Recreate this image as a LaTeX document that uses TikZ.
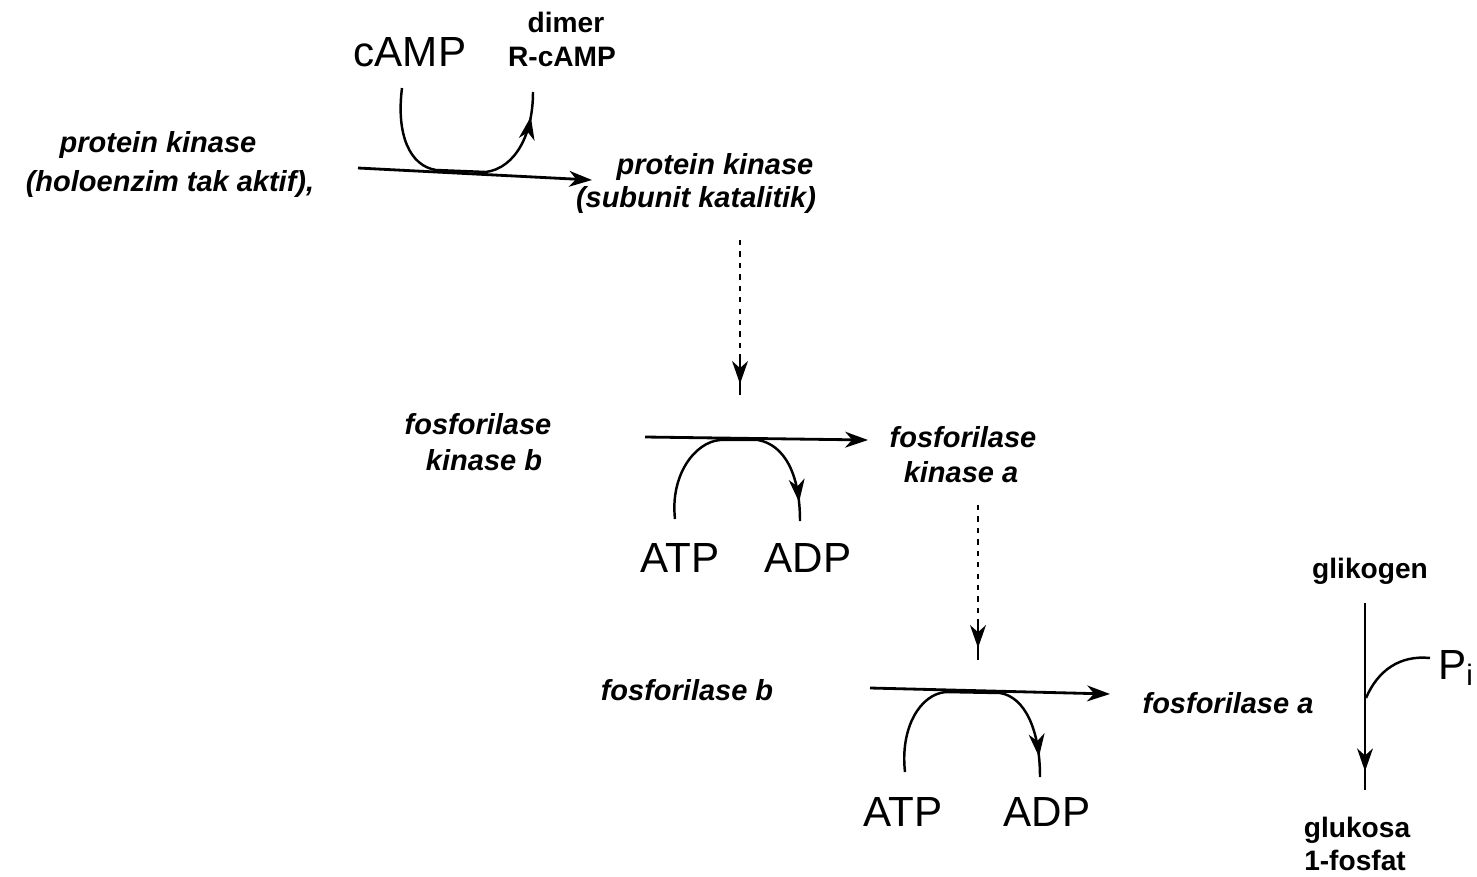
\documentclass[tikz,border=0pt]{standalone}
\usepackage{fontspec}
\setmainfont{Liberation Sans}
\usetikzlibrary{arrows.meta,decorations.markings}
\begin{document}
\begin{tikzpicture}[x=0.02cm,y=-0.02cm,
  lbl/.style={font=\fontsize{16.5}{19}\selectfont\bfseries\itshape, inner sep=0pt},
  lblup/.style={font=\fontsize{16}{19}\selectfont\bfseries, inner sep=0pt},
  big/.style={font=\fontsize{24}{28}\selectfont, inner sep=0pt},
  head/.tip={Stealth[length=13pt,width=9pt,inset=4pt]},
  flow/.style={line width=1.6pt, -head},
  side/.style={line width=1.4pt},
  sidearrow/.style={line width=1.4pt, postaction={decorate},
    decoration={markings, mark=at position #1 with {\arrow{head}}}},
  dots/.style={line width=1.3pt, dash pattern=on 3pt off 3.5pt},
  tipline/.style={line width=1.4pt, postaction={decorate},
    decoration={markings, mark=at position 0.7 with {\arrow{head}}}}
]
\useasboundingbox (0,0) rectangle (1477,876);

% ---- step 1: activation of protein kinase by cAMP ----
\node[lbl] (pkin) at (158,145) {protein kinase};
\node[lbl] (pkinb) at (170,184) {(holoenzim tak aktif),};
\node[lbl] (pkout) at (715,167) {protein kinase};
\node[lbl] (pkoutb) at (696,200) {(subunit katalitik)};
\node[big] (camp) at (410,52) {cAMP};
\node[lblup] (dimer) at (566,22) {dimer};
\node[lblup] (rcamp) at (562,57) {R-cAMP};

\coordinate (a1s) at (358,168);
\coordinate (a1e) at (592,180);
\draw[flow] (a1s) -- (a1e);
\coordinate (c1in) at (402,88);
\coordinate (c1out) at (533,92);
\draw[sidearrow=0.9] (c1in) .. controls (396,135) and (410,166) .. (436,170)
   -- (486,172) .. controls (515,168) and (533,135) .. (c1out);

% dotted link to step 2
\coordinate (d1s) at (740,240);
\coordinate (d1m) at (740,358);
\coordinate (d1e) at (740,395);
\draw[dots] (d1s) -- (d1m);
\draw[tipline] (d1m) -- (d1e);

% ---- step 2: phosphorylase kinase ----
\node[lbl] (fkb1) at (478,424) {fosforilase};
\node[lbl] (fkb2) at (484,460) {kinase b};
\node[lbl] (fka1) at (963,437) {fosforilase};
\node[lbl] (fka2) at (961,472) {kinase a};
\node[big] (atp1) at (680,558) {ATP};
\node[big] (adp1) at (808,558) {ADP};

\coordinate (a2s) at (645,437);
\coordinate (a2e) at (868,440);
\draw[flow] (a2s) -- (a2e);
\coordinate (c2in) at (675,519);
\coordinate (c2out) at (800,521);
\draw[sidearrow=0.92] (c2in) .. controls (670,475) and (695,442) .. (720,440)
   -- (758,440) .. controls (785,445) and (800,475) .. (c2out);

% dotted link to step 3
\coordinate (d2s) at (978,505);
\coordinate (d2m) at (978,620);
\coordinate (d2e) at (978,660);
\draw[dots] (d2s) -- (d2m);
\draw[tipline] (d2m) -- (d2e);

% ---- step 3: phosphorylase ----
\node[lbl] (fb) at (687,690) {fosforilase b};
\node[lbl] (fa) at (1228,703) {fosforilase a};
\node[big] (atp2) at (903,812) {ATP};
\node[big] (adp2) at (1047,812) {ADP};

\coordinate (a3s) at (870,688);
\coordinate (a3e) at (1110,694);
\draw[flow] (a3s) -- (a3e);
\coordinate (c3in) at (905,772);
\coordinate (c3out) at (1040,777);
\draw[sidearrow=0.92] (c3in) .. controls (900,728) and (920,694) .. (946,692)
   -- (1000,693) .. controls (1025,697) and (1040,730) .. (c3out);

% ---- glycogen breakdown ----
\node[lblup] (glik) at (1370,571) {glikogen};
\node[lblup] (gluk1) at (1357,830) {glukosa};
\node[lblup] (gluk2) at (1355,860) {1-fosfat};
\node[big, anchor=west] (pi) at (1438,668) {P\textsubscript{i}};

\coordinate (g1) at (1365,603);
\coordinate (g2) at (1365,790);
\draw[sidearrow=0.9] (g1) -- (g2);
\coordinate (pin) at (1430,658);
\draw[side] (pin) .. controls (1400,655) and (1378,670) .. (1366,698);
\end{tikzpicture}
\end{document}
